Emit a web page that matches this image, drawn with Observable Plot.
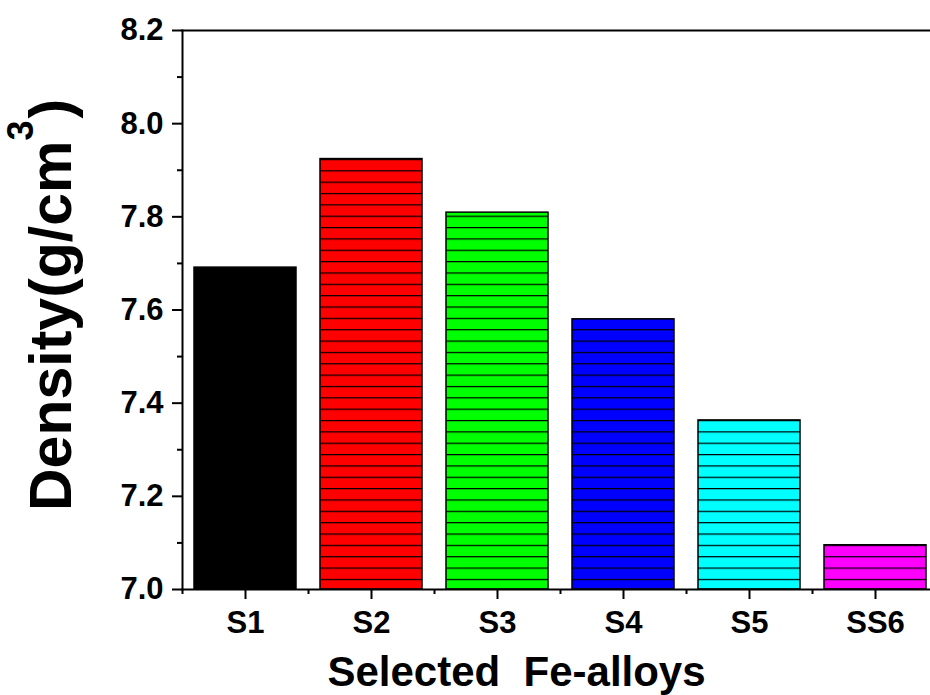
<!DOCTYPE html>
<html><head><meta charset="utf-8">
<script src="https://cdn.jsdelivr.net/npm/d3@7"></script>
<script src="https://cdn.jsdelivr.net/npm/@observablehq/plot@0.6"></script>
<style>html,body{margin:0;padding:0;background:#fff;overflow:hidden}#chart{width:930px;height:695px;overflow:hidden}#chart svg{max-width:none !important;width:938px !important;height:695px !important}</style>
</head><body><div id="chart"></div>
<script>
const alloys = ["S1", "S2", "S3", "S4", "S5", "SS6"];
const density = [7.691, 7.924, 7.809, 7.580, 7.363, 7.095];
const barColors = ["#000000", "#ff0000", "#00ff00", "#0000ff", "#00ffff", "#ff00ff"];
const yMajorTicks = [7.0, 7.2, 7.4, 7.6, 7.8, 8.0, 8.2];
const yMinorTicks = [7.1, 7.3, 7.5, 7.7, 7.9, 8.1];
const xTitle = "Selected\u00a0 Fe-alloys";
const yTitleMain = "Density(g/cm";
const yTitleSup = "3";
const yTitleEnd = ")";

const FONT = "'Liberation Sans', Arial, Helvetica, sans-serif";
const rows = alloys.map((a, i) => ({alloy: a, density: density[i], fill: `url(#hatch${i})`}));

const plot = Plot.plot({
  width: 938, height: 695,
  marginLeft: 182, marginRight: 0, marginTop: 30, marginBottom: 106,
  style: {fontFamily: FONT, fontWeight: "bold", color: "black", background: "white"},
  x: {domain: alloys, paddingInner: 0.19, paddingOuter: 0.095, axis: null},
  y: {domain: [7.0, 8.2], axis: null},
  color: {type: "identity"},
  marks: [
    Plot.barY(rows, {x: "alloy", y1: 7.0, y2: "density", fill: "fill", stroke: "black", strokeWidth: 1.5}),
    Plot.frame({anchor: "left", stroke: "black", strokeWidth: 2}),
    Plot.frame({anchor: "top", stroke: "black", strokeWidth: 2}),
    Plot.frame({anchor: "bottom", stroke: "black", strokeWidth: 2}),
    Plot.axisY(yMajorTicks, {anchor: "left", tickSize: 10, tickPadding: 9, tickFormat: d => d.toFixed(1), fontSize: 31, fontWeight: "bold", strokeWidth: 2, label: null}),
    Plot.axisY(yMinorTicks, {anchor: "left", tickSize: 5, text: null, strokeWidth: 2, label: null}),
    Plot.axisX(alloys, {anchor: "bottom", tickSize: 10, tickPadding: 11, fontSize: 31, fontWeight: "bold", strokeWidth: 2, label: null}),
    Plot.axisX(alloys, {anchor: "bottom", tickSize: 5, text: null, dx: -63, strokeWidth: 2, label: null}),
    Plot.text([xTitle], {frameAnchor: "bottom", dy: 96, dx: -44, lineAnchor: "bottom", fontSize: 42, fontWeight: "bold", fill: "black"})
  ]
});
document.getElementById("chart").appendChild(plot);

const svg = d3.select(plot.tagName.toLowerCase() === "svg" ? plot : plot.querySelector("svg"));
const defs = svg.insert("defs", ":first-child");
barColors.forEach((c, i) => {
  const p = defs.append("pattern").attr("id", `hatch${i}`).attr("patternUnits", "userSpaceOnUse")
    .attr("width", 20).attr("height", 11.35);
  p.append("rect").attr("width", 20).attr("height", 11.35).attr("fill", c);
  p.append("rect").attr("y", 0).attr("width", 20).attr("height", 1.2).attr("fill", "#000");
});

const t = svg.append("text")
  .attr("transform", "translate(71,511) rotate(-90)")
  .attr("text-anchor", "start")
  .attr("font-size", 59).attr("font-weight", "bold").attr("fill", "black").attr("font-family", FONT);
t.append("tspan").text(yTitleMain);
t.append("tspan").attr("font-size", 36).attr("dy", -38).text(yTitleSup);
t.append("tspan").attr("dy", 38).attr("dx", 2).text(yTitleEnd);
</script>
</body></html>
